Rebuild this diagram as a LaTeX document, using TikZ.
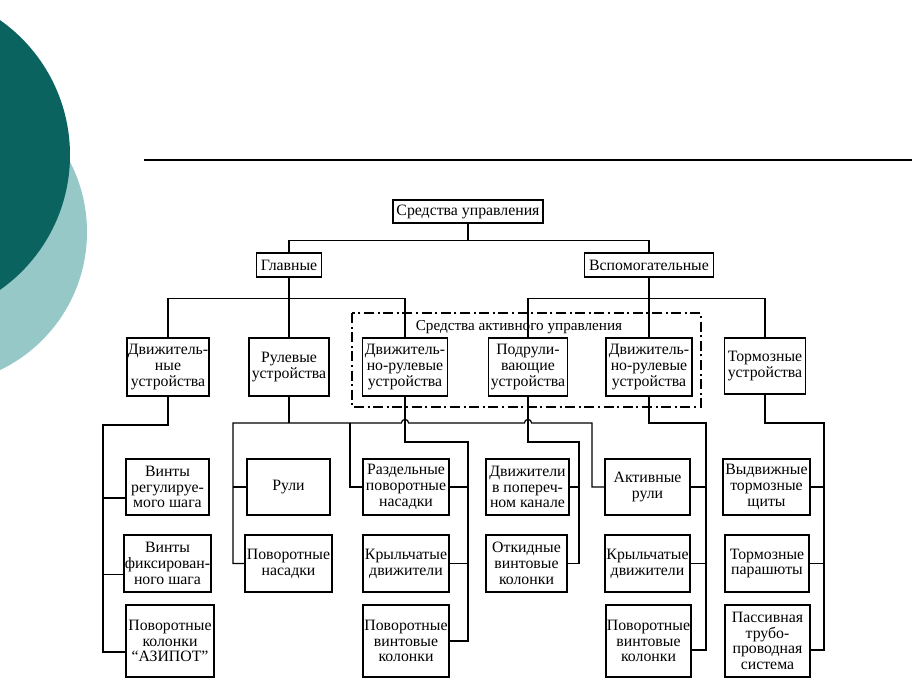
\documentclass[tikz,border=0pt]{standalone}
\usepackage{fontspec}
\setmainfont{Liberation Serif}
\definecolor{tealdark}{HTML}{0B6360}
\definecolor{teallight}{HTML}{97C8C8}
\tikzset{
  blok/.style={draw,line width=0.9pt,align=center,inner sep=0.5pt,
    font=\fontsize{7.9}{7.9}\selectfont},
  sz/.style 2 args={minimum width=#1*0.5pt,minimum height=#2*0.5pt},
  lien/.style={line width=0.6pt},
}
\begin{document}
\begin{tikzpicture} [x=0.5pt,y=-0.5pt]% ------ Средства управления ----------------
    \useasboundingbox (0,0) rectangle (912,700);
    \begin{scope}
      \clip (0,0) rectangle (912,700);
      \fill [teallight] (-66,232) circle (76.5pt);
      \fill [tealdark] (-95,155) circle (82.5pt);
    \end{scope}
    \draw [line width=0.75pt] (144,160) -- (912,160);
    % niveau 1 et 2
    \node [blok,sz={150}{23}] (sredstva) at (468,211.5) {Средства управления};
    \node [blok,sz={65}{24}] (glav) at (289,265) {Главные};
    \node [blok,sz={129}{24}] (vspom) at (649,265) {Вспомогательные};
    % niveau 3
    \node [blok,sz={82}{58}] (dvig) at (168,367) {Движитель-\\ные\\устройства};
    \node [blok,sz={80}{58}] (rul) at (289,367) {Рулевые\\устройства};
    \node [blok,sz={85}{58}] (drA) at (405,367) {Движитель-\\но-рулевые\\устройства};
    \node [blok,sz={79}{58}] (podr) at (528,367) {Подрули-\\вающие\\устройства};
    \node [blok,sz={86}{58}] (drB) at (649,367) {Движитель-\\но-рулевые\\устройства};
    \node [blok,sz={81}{56}] (torm) at (765,366) {Тормозные\\устройства};
    \draw [line width=0.9pt,dash pattern=on 5pt off 1.8pt on 1pt off 1.8pt] (352,313) rectangle (701,407);
    \node [font=\fontsize{7.6}{7.9}\selectfont,inner sep=0pt] (aktiv) at (519,327) {Средства активного управления};
    % niveau 4
    \node [blok,sz={83}{56}] (vrsh) at (167.5,487) {Винты\\регулируе-\\мого шага};
    \node [blok,sz={83}{56}] (ruli) at (288.5,487) {Рули};
    \node [blok,sz={86}{56}] (rpn) at (406,487) {Раздельные\\поворотные\\насадки};
    \node [blok,sz={83}{56}] (dpk) at (527.5,487) {Движители\\в попереч-\\ном канале};
    \node [blok,sz={85}{56}] (akr) at (647.5,487) {Активные\\рули};
    \node [blok,sz={87}{56}] (vtsh) at (766.5,487) {Выдвижные\\тормозные\\щиты};
    \node [blok,sz={83}{57}] (vfsh) at (167.5,563.5) {Винты\\фиксирован-\\ного шага};
    \node [blok,sz={87}{57}] (pnas) at (288.5,563.5) {Поворотные\\насадки};
    \node [blok,sz={86}{57}] (krA) at (406,563.5) {Крыльчатые\\движители};
    \node [blok,sz={81}{57}] (okvk) at (526.5,563.5) {Откидные\\винтовые\\колонки};
    \node [blok,sz={85}{57}] (krB) at (647.5,563.5) {Крыльчатые\\движители};
    \node [blok,sz={84}{57}] (tpar) at (767,563.5) {Тормозные\\парашюты};
    \node [blok,sz={88}{72}] (azipot) at (170,641) {Поворотные\\колонки\\“АЗИПОТ”};
    \node [blok,sz={86}{72}] (pvkA) at (406,641) {Поворотные\\винтовые\\колонки};
    \node [blok,sz={83}{72}] (pvkB) at (648.5,641) {Поворотные\\винтовые\\колонки};
    \node [blok,sz={85}{72}] (pts) at (767.5,641) {Пассивная\\трубо-\\проводная\\система};
    % liaisons haut
    \draw [lien] (sredstva.south) -- ++(0,17) -| (glav.north);
    \draw [lien] (sredstva.south) -- ++(0,17) -| (vspom.north);
    \draw [lien] (glav.south) -- ++(0,21) -| (dvig.north);
    \draw [lien] (glav.south) -- (rul.north);
    \draw [lien] (glav.south) -- ++(0,21) -| (drA.north);
    \draw [lien] (vspom.south) -- ++(0,21) -| (podr.north);
    \draw [lien] (vspom.south) -- (drB.north);
    \draw [lien] (vspom.south) -- ++(0,21) -| (torm.north);
    % liaisons bas
    \coordinate (busA) at (103,425);
    \coordinate (busR) at (233,423);
    \coordinate (busRm) at (350,423);
    \coordinate (busRe) at (592,423);
    \coordinate (busD) at (468,442);
    \coordinate (busP) at (579,442);
    \coordinate (busB) at (706,423);
    \coordinate (busT) at (824,423);
    \draw [lien] (dvig.south) |- (busA) -- (busA |- azipot.west) -- ++(0,11) -- ([yshift=-5.5pt]azipot.west);
    \draw [lien] ([yshift=-5.5pt]busA |- vrsh.west) -- ([yshift=-5.5pt]vrsh.west);
    \draw [lien] ([yshift=-5.5pt]busA |- vfsh.west) -- ([yshift=-5.5pt]vfsh.west);
    \draw [lien] (rul.south) -- (rul.south |- busR);
    \draw [lien] (pnas.west) -| (busR) -- ([xshift=-1.8pt]drA.south |- busR) arc (180:0:1.8pt)
       -- ([xshift=-1.8pt]podr.south |- busR) arc (180:0:1.8pt) -- (busRe) |- (akr.west);
    \draw [lien] (busR |- ruli.west) -- (ruli.west);
    \draw [lien] (busRm) |- (rpn.west);
    \draw [lien] (drA.south) |- (busD) -- (busD |- pvkA.east) -- (pvkA.east);
    \draw [lien] (rpn.east) -- (busD |- rpn.east);
    \draw [lien] (krA.east) -- (busD |- krA.east);
    \draw [lien] (podr.south) |- (busP) -- (busP |- okvk.east) -- (okvk.east);
    \draw [lien] (dpk.east) -- (busP |- dpk.east);
    \draw [lien] (drB.south) |- (busB) -- (busB |- pvkB.east) -- ++(0,9) -- ([yshift=-4.5pt]pvkB.east);
    \draw [lien] (akr.east) -- (busB |- akr.east);
    \draw [lien] (krB.east) -- (busB |- krB.east);
    \draw [lien] (torm.south) |- (busT) -- (busT |- pts.east) -- ++(0,9) -- ([yshift=-4.5pt]pts.east);
    \draw [lien] (vtsh.east) -- (busT |- vtsh.east);
    \draw [lien] (tpar.east) -- (busT |- tpar.east);
\end{tikzpicture}
\end{document}
